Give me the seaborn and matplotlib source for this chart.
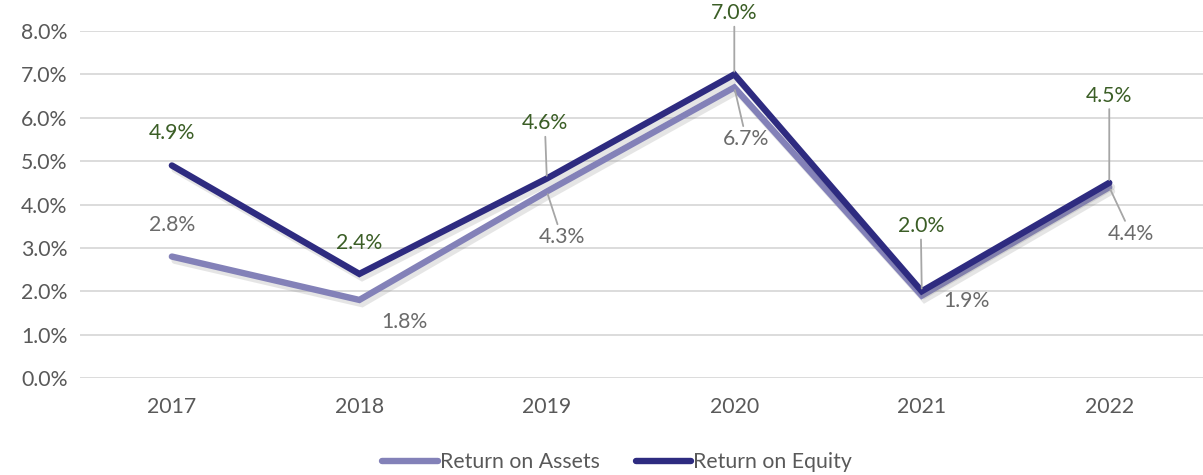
import matplotlib
matplotlib.use("Agg")
import matplotlib.pyplot as plt
import matplotlib.patheffects as pe
from matplotlib.lines import Line2D
import seaborn as sns
import pandas as pd

years = ["2017", "2018", "2019", "2020", "2021", "2022"]
roa = [2.8, 1.8, 4.3, 6.7, 1.9, 4.4]
roe = [4.9, 2.4, 4.6, 7.0, 2.0, 4.5]
series_names = ["Return on Assets", "Return on Equity"]
y_ticks = [0, 1, 2, 3, 4, 5, 6, 7, 8]

sns.set_theme(style="white")
plt.rcParams["font.family"] = ["Lato", "DejaVu Sans"]

df = pd.DataFrame({
    "x": list(range(len(years))) * 2,
    "value": roa + roe,
    "series": [series_names[0]] * len(years) + [series_names[1]] * len(years),
})

c_roa = "#8381B8"
c_roe = "#2E2B80"
txt_gray = "#595959"
lab_gray = "#6B6B6B"
lab_green = "#3B5E26"
FS = 15.3

fig = plt.figure(figsize=(12.03, 4.75), dpi=100)
ax = fig.add_axes([0.0665, 0.2042, 0.9335, 0.7305])

sns.lineplot(data=df, x="x", y="value", hue="series", hue_order=series_names,
             palette=[c_roa, c_roe], linewidth=4.6, ax=ax, legend=False,
             solid_capstyle="round", solid_joinstyle="miter", zorder=3)
for ln in ax.lines:
    ln.set_path_effects([pe.SimpleLineShadow(offset=(2, -3), shadow_color="#808080", alpha=0.2),
                         pe.Normal()])

ax.set_xlim(-0.49, 5.5)
ax.set_ylim(0, 8)
ax.set_yticks(y_ticks)
ax.set_yticklabels([f"{t:.1f}%" for t in y_ticks])
ax.set_xticks(range(len(years)))
ax.set_xticklabels(years)
ax.tick_params(axis="both", colors=txt_gray, labelsize=FS, length=0)
ax.tick_params(axis="y", pad=9)
ax.tick_params(axis="x", pad=14)
ax.set_xlabel("")
ax.set_ylabel("")
ax.grid(axis="y", color="#D9D9D9", linewidth=1.3, zorder=0)
ax.set_axisbelow(True)
for s in ax.spines.values():
    s.set_visible(False)

# label offsets in pixels (dx, dy), leader flag
roa_off = [(0, 31.5, False), (45, -22, False), (15, -46, True),
           (12, -52, True), (45, -5, False), (22, -47, True)]
roe_off = [(0, 32.5, False), (0, 31, False), (-2, 55, True),
           (0, 61, True), (-1, 65, True), (0, 87, True)]

def label(vals, offs, color):
    for i, (v, (dx, dy, lead)) in enumerate(zip(vals, offs)):
        kw = {}
        if lead:
            kw["arrowprops"] = dict(arrowstyle="-", color="#A6A6A6", lw=1.3,
                                    shrinkA=0, shrinkB=2)
        ax.annotate(f"{v:.1f}%", xy=(i, v), xytext=(dx, dy), textcoords="offset pixels",
                    ha="center", va="center", fontsize=FS, color=color, zorder=5, **kw)

label(roa, roa_off, lab_gray)
label(roe, roe_off, lab_green)

handles = [Line2D([0], [0], color=c_roa, lw=4.6, solid_capstyle="round"),
           Line2D([0], [0], color=c_roe, lw=4.6, solid_capstyle="round")]
leg = fig.legend(handles, series_names, loc="center", bbox_to_anchor=(0.513, 0.027),
                 ncol=2, frameon=False, fontsize=FS, handlelength=2.6,
                 handletextpad=0.1, columnspacing=1.7)
for t in leg.get_texts():
    t.set_color(txt_gray)

fig.savefig("out.png", dpi=100)
